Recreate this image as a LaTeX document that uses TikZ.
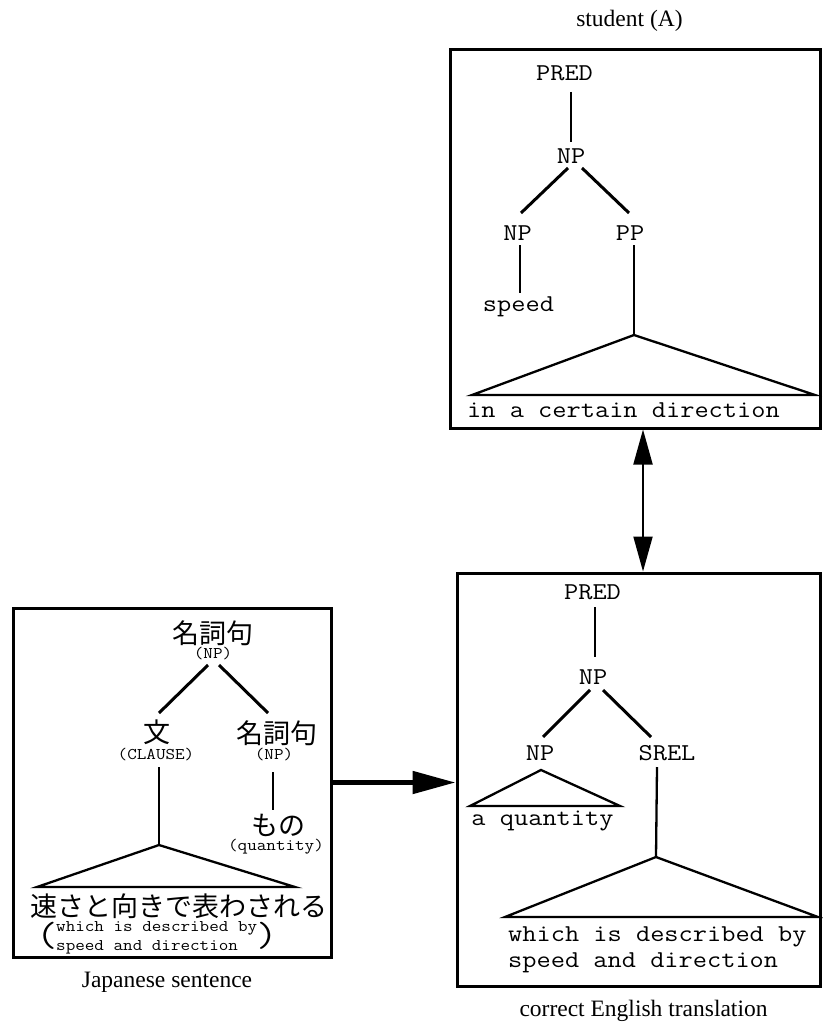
\documentclass[tikz,border=0pt]{standalone}
\usepackage{fontspec}
\setmainfont{Liberation Serif}
\setmonofont{Latin Modern Mono}[FakeStretch=1.14]
\newfontfamily\jpfont{Noto Sans CJK JP}
\usetikzlibrary{arrows.meta,calc}
\begin{document}
\begin{tikzpicture}[x=1pt,y=-1pt,
  box/.style={draw, line width=3pt, inner sep=0pt},
  tt/.style={font=\fontsize{24.2}{26}\selectfont\ttfamily, inner sep=0pt},
  stt/.style={font=\fontsize{16.3}{19}\selectfont\ttfamily, inner sep=0pt},
  jp/.style={font=\fontsize{27}{30}\selectfont\jpfont, inner sep=0pt},
  paren/.style={font=\fontsize{35}{35}\selectfont\ttfamily, inner sep=0pt},
  captext/.style={font=\fontsize{23.5}{26}\selectfont\rmfamily, inner sep=0pt},
  vl/.style={line width=2.3pt},
  dl/.style={line width=3pt},
  tri/.style={line width=2.3pt},
  bigarrow/.style={line width=5pt, -{Triangle[length=43pt,width=22pt]}},
  dblarrow/.style={line width=2pt, {Triangle[length=35pt,width=19pt]}-{Triangle[length=35pt,width=19pt]}}
]
\useasboundingbox (0,0) rectangle (822,1024);

% ---------- boxes ----------
\node[box, minimum width=370pt, minimum height=378pt] (sbox) at (635,239) {};
\node[box, minimum width=363pt, minimum height=413pt] (ebox) at (638.5,779.5) {};
\node[box, minimum width=318pt, minimum height=349pt] (jbox) at (172,782.5) {};

% ---------- captions ----------
\node[captext] (capS) at (629.5,21) {student (A)};
\node[captext] (capJ) at (167,982) {Japanese sentence};
\node[captext] (capE) at (643.5,1011) {correct English translation};

% ---------- student (A) tree ----------
\node[tt] (pred1) at (564.5,73.5) {PRED};
\node[tt] (np1) at (571,156.5) {NP};
\node[tt] (npa) at (517.5,233.5) {NP};
\node[tt] (pp) at (630,233.5) {PP};
\node[tt] (speed) at (518.5,306.5) {speed};
\coordinate (ta) at (634,335);
\coordinate (tl) at (472,395);
\coordinate (tr) at (815,395);
\node[tt, anchor=west] (dir) at (467,410.5) {in a certain direction};

\draw[vl] ([shift={(6.5,18.5)}]pred1.center) -- ([shift={(0,-14.5)}]np1.center);
\draw[dl] ([shift={(-3,11.5)}]np1.center) -- ([shift={(3.5,-20.5)}]npa.center);
\draw[dl] ([shift={(11,11.5)}]np1.center) -- ([shift={(-1,-20.5)}]pp.center);
\draw[vl] ([shift={(2.5,11.5)}]npa.center) -- ([shift={(1.5,-13.5)}]speed.center);
\draw[vl] ([shift={(4,11.5)}]pp.center) -- (ta);
\draw[tri] (tl) -- (ta) -- (tr) -- cycle;

% ---------- English translation tree ----------
\node[tt] (pred2) at (592.5,592) {PRED};
\node[tt] (np2) at (593,677) {NP};
\node[tt] (npb) at (540,753.5) {NP};
\node[tt] (srel) at (667,753.5) {SREL};
\coordinate (sa) at (541,770);
\coordinate (sl) at (470,806);
\coordinate (sr) at (620,806);
\node[tt] (quant) at (542.5,820.5) {a quantity};
\coordinate (ba) at (656,857);
\coordinate (bl) at (505,917);
\coordinate (br) at (818,917);
\node[tt, anchor=base west] (w1) at (508,941) {which is described by};
\node[tt, anchor=base west] (w2) at (508,967) {speed and direction};

\draw[vl] ([shift={(2.5,15)}]pred2.center) -- ([shift={(2,-20)}]np2.center);
\draw[dl] ([shift={(-3,13)}]np2.center) -- ([shift={(3,-16.5)}]npb.center);
\draw[dl] ([shift={(10,13)}]np2.center) -- ([shift={(-16,-16.5)}]srel.center);
\draw[tri] (sl) -- (sa) -- (sr) -- cycle;
\draw[vl] ([shift={(-10,13.5)}]srel.center) -- (ba);
\draw[tri] (bl) -- (ba) -- (br) -- cycle;

% ---------- Japanese tree ----------
\node[jp] (j1) at (213,633) {名詞句};
\node[stt] (j1s) at (213,654) {(NP)};
\node[jp] (j2) at (157,732) {文};
\node[stt] (j2s) at (156,755) {(CLAUSE)};
\node[jp] (j3) at (277,733) {名詞句};
\node[stt] (j3s) at (274,755) {(NP)};
\node[jp] (j4) at (278,825) {もの};
\node[stt] (j4s) at (276,847) {(quantity)};
\coordinate (ja) at (159,845);
\coordinate (jl) at (37,887);
\coordinate (jr) at (295,887);
\node[jp] (j5) at (179,906) {速さと向きで表わされる};
\node[stt, anchor=west] (t1) at (56,928) {which is described by};
\node[stt, anchor=west] (t2) at (56,947) {speed and direction};
\node[paren] (lp) at (47,936) {(};
\node[paren] (rp) at (267,936) {)};

\draw[dl] ([shift={(-5,11)}]j1s.center) -- ([shift={(2,-19)}]j2.center);
\draw[dl] ([shift={(6,11)}]j1s.center) -- ([shift={(-9,-20)}]j3.center);
\draw[vl] ([shift={(3,12)}]j2s.center) -- (ja);
\draw[vl] ([shift={(-1,17)}]j3s.center) -- ([shift={(-5,-15)}]j4.center);
\draw[tri] (jl) -- (ja) -- (jr) -- cycle;

% ---------- arrows ----------
\draw[bigarrow] (jbox.east) -- (jbox.east -| ebox.west);
\coordinate (dA) at ($(sbox.south)+(8,0)$);
\draw[dblarrow] (dA) -- (dA |- ebox.north);
\end{tikzpicture}
\end{document}
